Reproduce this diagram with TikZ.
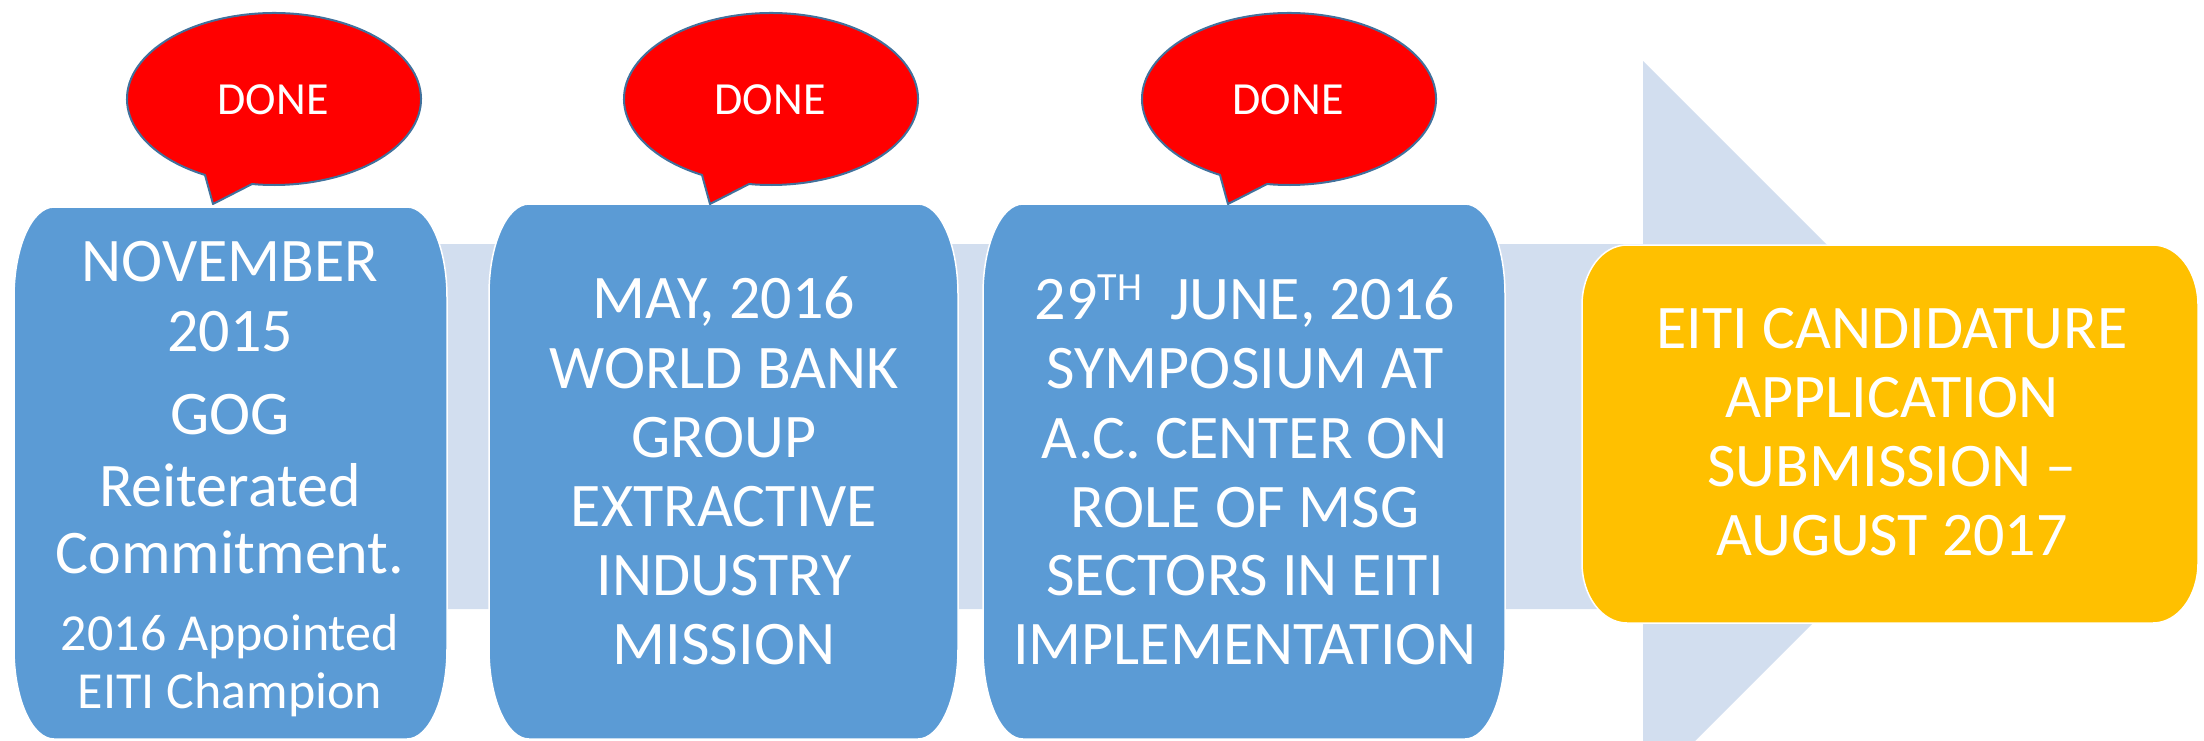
\documentclass[tikz,border=0pt]{standalone}
\usepackage{fontspec}
\setmainfont{Carlito}
\definecolor{shaftblue}{HTML}{D2DEEF}
\definecolor{panelblue}{HTML}{5B9BD5}
\definecolor{panelgold}{HTML}{FFC000}
\definecolor{bubbleedge}{HTML}{41719C}
\tikzset{panel/.style={fill=panelblue,draw=white,line width=1.5pt},
 goal panel/.style={panel,fill=panelgold},
 big line/.style={anchor=base,text=white,inner sep=0pt,font=\fontsize{62}{69}\selectfont},
 small line/.style={big line,font=\fontsize{52}{58}\selectfont},
 bubble/.style={fill=red,draw=bubbleedge,line width=2pt,line join=round},
 done text/.style={anchor=base,text=white,inner sep=0pt,font=\fontsize{46}{50}\selectfont},
 }
% rounded panel with elliptic corners: style, x1, y1, x2, y2, rx, ry
\newcommand\roundedpanel[7]{%
 \path[#1] ({#2+#6},#3) -- ({#4-#6},#3)
  arc[start angle=270,end angle=360,x radius=#6,y radius=#7] -- (#4,{#5-#7})
  arc[start angle=0,end angle=90,x radius=#6,y radius=#7] -- ({#2+#6},#5)
  arc[start angle=90,end angle=180,x radius=#6,y radius=#7] -- (#2,{#3+#7})
  arc[start angle=180,end angle=270,x radius=#6,y radius=#7] -- cycle;}

\begin{document}
\begin{tikzpicture}[x=1pt,y=-1pt]
        \useasboundingbox (0,0) rectangle (2204,740);
        \clip (0,0) rectangle (2204,740);
        \fill[shaftblue] (100,244) -- (1643,244) -- (1643,61) -- (2009,427)
            -- (1643,793) -- (1643,609) -- (100,609) -- cycle;
        \roundedpanel{panel}{14}{207}{447}{739}{40}{90}
        \roundedpanel{panel}{489}{204}{958}{739}{40}{90}
        \roundedpanel{panel}{983}{204}{1505}{739}{40}{90}
        \roundedpanel{goal panel}{1582}{245}{2198}{623}{45}{60}
        \foreach \yy/\txt [count=\i] in {281/NOVEMBER,351/2015,434/GOG,506/Reiterated,573/Commitment.}
            \node[big line] (nov-\i) at (230,\yy) {\txt};
        \node[small line] (nov-6) at (230,650) {2016 Appointed};
        \node[small line] (nov-7) at (230,708) {EITI Champion};
        \foreach \yy/\txt [count=\i] in {318/{MAY, 2016},388/WORLD BANK,457/GROUP,526/EXTRACTIVE,595/INDUSTRY,664/MISSION}
            \node[big line] (may-\i) at (724,\yy) {\txt};
        \node[big line] (june-1) at (1245,319)
            {29\raisebox{19pt}{\fontsize{40}{40}\selectfont TH}\ \ JUNE, 2016};
        \foreach \yy/\txt [count=\i from 2] in {388/SYMPOSIUM AT,458/A.C. CENTER ON,527/ROLE OF MSG,595/SECTORS IN EITI,664/IMPLEMENTATION}
            \node[big line] (june-\i) at (1245,\yy) {\txt};
        \foreach \yy/\txt [count=\i] in {348/EITI CANDIDATURE,417/APPLICATION,486/SUBMISSION –,555/AUGUST 2017}
            \node[big line] (eiti-\i) at (1892,\yy) {\txt};
        \foreach \cx [count=\i] in {274,771,1289} {
            \begin{scope}[shift={(\cx,99)}]
                \draw[bubble] (118:147 and 86) arc[start angle=118,end angle=458.6,x radius=147,y radius=86]
                    -- (-61,105) -- cycle;
                \node[done text] (done-\i) at (-1,15) {DONE};
            \end{scope}
        }
    \end{tikzpicture}
\end{document}
